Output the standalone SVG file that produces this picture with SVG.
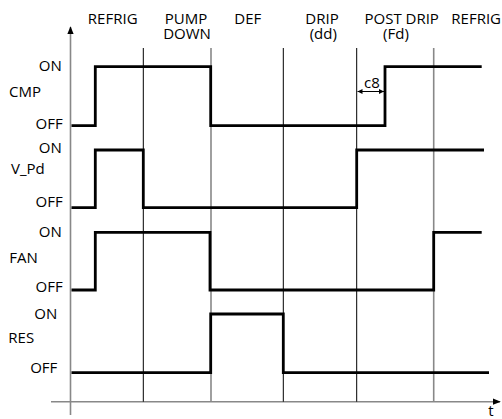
<svg xmlns="http://www.w3.org/2000/svg" width="502" height="419" viewBox="0 0 502 419">
<style>
text{font-family:"Open Sans","Liberation Sans",sans-serif;font-size:15px;fill:#000}
.r{text-anchor:end}
.m{text-anchor:middle}
.sig{fill:none;stroke:#000;stroke-width:2.8;stroke-linejoin:miter}
.gk{stroke:#000;stroke-width:1;fill:none}
.gg{stroke:#888;stroke-width:1.6;fill:none}
</style>
<defs>
<marker id="ah" viewBox="0 0 10 10" refX="9" refY="5" markerWidth="8" markerHeight="8" markerUnits="userSpaceOnUse" orient="auto">
<path d="M0,1 L10,5 L0,9 Z" fill="#000"/>
</marker>
<marker id="sa" viewBox="0 0 10 10" refX="10" refY="5" markerWidth="5" markerHeight="5" markerUnits="userSpaceOnUse" orient="auto-start-reverse">
<path d="M0,0 L10,5 L0,10 Z" fill="#000"/>
</marker>
</defs>
<g id="axes">
<line class="gg" x1="70.5" y1="415" x2="70.5" y2="27" marker-end="url(#ah)"/>
<line class="gg" x1="51" y1="401.7" x2="500" y2="401.7" marker-end="url(#ah)"/>
<text x="491" y="415.5" class="m">t</text>
</g>
<g id="grid">
<line class="gk" x1="143.3" y1="48" x2="143.3" y2="401.7"/>
<line class="gg" x1="211" y1="48" x2="211" y2="401.7"/>
<line class="gk" x1="283.3" y1="48" x2="283.3" y2="401.7"/>
<line class="gk" x1="356.7" y1="48" x2="356.7" y2="401.7"/>
<line class="gg" x1="433.7" y1="48" x2="433.7" y2="401.7"/>
</g>
<g id="phases">
<text x="112.7" y="24.3" class="m">REFRIG</text>
<text x="186" y="24.3" class="m">PUMP</text>
<text x="187" y="39" class="m">DOWN</text>
<text x="247.8" y="24.3" class="m">DEF</text>
<text x="322" y="24.3" class="m">DRIP</text>
<text x="323.3" y="39" class="m">(dd)</text>
<text x="401.7" y="24.3" class="m">POST DRIP</text>
<text x="396" y="39" class="m">(Fd)</text>
<text x="501" y="24.3" class="r">REFRIG</text>
</g>
<g id="cmp">
<text x="61.7" y="70.5" class="r">ON</text>
<text x="9" y="96.7">CMP</text>
<text x="62.7" y="129.3" class="r">OFF</text>
</g>
<g id="vpd">
<text x="61.7" y="152.7" class="r">ON</text>
<text x="11" y="173.5">V_Pd</text>
<text x="62.7" y="206.8" class="r">OFF</text>
</g>
<g id="fan">
<text x="61.7" y="236.5" class="r">ON</text>
<text x="9.3" y="262.5">FAN</text>
<text x="62.7" y="291.5" class="r">OFF</text>
</g>
<g id="res">
<text x="57.3" y="318.5" class="r">ON</text>
<text x="8.3" y="343">RES</text>
<text x="57.3" y="373" class="r">OFF</text>
</g>
<g id="connectors">
<path class="sig" d="M71.5 125.7 H95.3 V66.7 H210.7 V125.7 H385 V66.7 H481.7"/>
<path class="sig" d="M71.5 207.7 H95.3 V150 H143.3 V207.7 H356.7 V150 H484"/>
<path class="sig" d="M71.5 290 H95.3 V232.3 H210 V290 H433.7 V232.3 H481.7"/>
<path class="sig" d="M71.5 372.7 H210.7 V314 H283.3 V372.7 H489"/>
<line x1="357.5" y1="91.5" x2="384" y2="91.5" stroke="#000" stroke-width="1" marker-start="url(#sa)" marker-end="url(#sa)"/>
</g>
<g id="c8label">
<text x="372" y="88" class="m">c8</text>
</g>
</svg>
